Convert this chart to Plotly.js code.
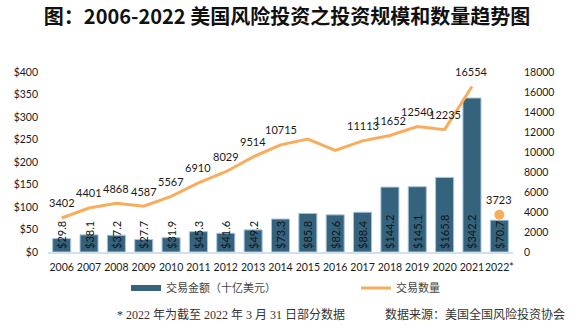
<!DOCTYPE html>
<html>
<head>
<meta charset="utf-8">
<script src="https://cdn.plot.ly/plotly-3.0.1.min.js"></script>
<style>
html,body{margin:0;padding:0;background:#fff;}
#chart{width:581px;height:336px;}
</style>
</head>
<body>
<div id="chart"></div>
<script>
const years = ['2006','2007','2008','2009','2010','2011','2012','2013','2014','2015','2016','2017','2018','2019','2020','2021','2022*'];
const dealValue = [29.8,38.1,37.2,27.7,31.9,45.3,41.6,49.2,73.3,85.8,82.6,88.4,144.2,145.1,165.8,342.2,70.7];
const dealCount = [3402,4401,4868,4587,5567,6910,8029,9514,10715,11300,10150,11113,11652,12540,12235,16554,null];
const countLabels = ['3402','4401','4868','4587','5567','6910','8029','9514','10715',null,null,'11113','11652','12540','12235','16554','3723'];
const partialCount = [null,null,null,null,null,null,null,null,null,null,null,null,null,null,null,null,3723];

const xIdx = years.map((_, i) => i);

const barColor = '#35637e';
const lineColor = '#f8ad5c';
const tickFont = {family:'Lato, "Noto Sans CJK SC", sans-serif', size:10.5, color:'#1a1a1a'};
const cjkSerif = '"Liberation Serif", "Noto Sans CJK SC", serif';

const traces = [
  {
    type:'bar', x:xIdx, y:dealValue, yaxis:'y', showlegend:false,
    marker:{color:barColor, line:{color:'#a9c5da', width:1}},
    texttemplate:'$%{y:.1f}', textposition:'inside', insidetextanchor:'start',
    textangle:-90, constraintext:'none', cliponaxis:false,
    textfont:{family:'Lato, sans-serif', size:11, color:'#141414'},
    insidetextfont:{family:'Lato, sans-serif', size:11, color:'#141414'},
    hoverinfo:'skip'
  },
  {
    type:'scatter', mode:'lines', x:xIdx, y:dealCount, yaxis:'y2', showlegend:false,
    line:{color:lineColor, width:3}, connectgaps:false, hoverinfo:'skip'
  },
  {
    type:'scatter', mode:'markers', x:xIdx, y:partialCount, yaxis:'y2', showlegend:false,
    marker:{color:lineColor, size:10}, hoverinfo:'skip'
  },
  {
    type:'scatter', mode:'lines', x:[xIdx[0]], y:[null], yaxis:'y', name:'交易金额（十亿美元）',
    line:{color:barColor, width:6}, showlegend:true, legend:'legend', hoverinfo:'skip'
  },
  {
    type:'scatter', mode:'lines', x:[xIdx[0]], y:[null], yaxis:'y', name:'交易数量',
    line:{color:lineColor, width:3}, showlegend:true, legend:'legend2', hoverinfo:'skip'
  }
];

const annotations = [];
xIdx.forEach((xi)=>{
  const lbl = countLabels[xi];
  if(lbl===null) return;
  const yv = dealCount[xi]!==null ? dealCount[xi] : partialCount[xi];
  annotations.push({
    x:xi, y:yv, xref:'x', yref:'y2', text:lbl, showarrow:false,
    yanchor:'middle', yshift:15,
    font:{family:'Lato, sans-serif', size:11, color:'#1a1a1a'}
  });
});
annotations.push({
  xref:'paper', yref:'paper', x:(115-48)/464.7, y:(252.3-315)/180,
  xanchor:'left', yanchor:'middle', showarrow:false,
  text:'* 2022 年为截至 2022 年 3 月 31 日部分数据',
  font:{family:cjkSerif, size:12, color:'#333'}
});
annotations.push({
  xref:'paper', yref:'paper', x:(383-48)/464.7, y:(252.3-315)/180,
  xanchor:'left', yanchor:'middle', showarrow:false,
  text:'数据来源：美国全国风险投资协会',
  font:{family:cjkSerif, size:12, color:'#333'}
});

const legendBase = {orientation:'h', xref:'container', yref:'container', y:1-288/336,
  xanchor:'left', yanchor:'middle',
  font:{family:cjkSerif, size:11, color:'#444'}, bgcolor:'rgba(0,0,0,0)'};

const layout = {
  width:581, height:336,
  margin:{l:48, r:68, t:72, b:84, pad:0},
  paper_bgcolor:'#fff', plot_bgcolor:'#fff',
  title:{text:'图：2006-2022 美国风险投资之投资规模和数量趋势图',
    font:{family:'"Noto Sans CJK SC", sans-serif', size:20, color:'#111', weight:'bold'},
    x:287/581, xanchor:'center', y:1-17/336, yanchor:'middle', xref:'container', yref:'container'},
  bargap:0.34,
  xaxis:{type:'linear', range:[-0.5, years.length-0.5], tickvals:xIdx, ticktext:years,
    showgrid:false, zeroline:false, showline:true,
    linecolor:'#cfe0ef', linewidth:2, ticks:'', tickfont:tickFont, tickangle:0,
    ticklabelstandoff:4},
  yaxis:{range:[0,400], dtick:50, tickprefix:'$', showgrid:false, zeroline:false,
    showline:false, ticks:'', tickfont:tickFont, ticklabelstandoff:9},
  yaxis2:{range:[0,18000], dtick:2000, tickformat:'d', overlaying:'y', side:'right', showgrid:false,
    zeroline:false, showline:false, ticks:'', tickfont:tickFont, ticklabelstandoff:10},
  showlegend:true,
  legend:Object.assign({}, legendBase, {x:126/581}),
  legend2:Object.assign({}, legendBase, {x:356/581}),
  annotations:annotations
};

Plotly.newPlot('chart', traces, layout, {staticPlot:true, displayModeBar:false});
</script>
</body>
</html>
